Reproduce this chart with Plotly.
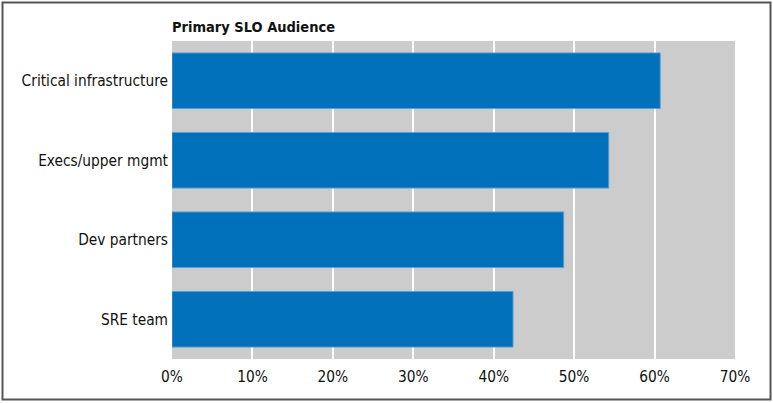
import plotly.graph_objects as go

# Survey results: share of respondents naming each primary SLO audience
audiences = ["SRE team", "Dev partners", "Execs/upper mgmt", "Critical infrastructure"]
shares = [0.424, 0.487, 0.543, 0.607]
tick_values = [0, 0.1, 0.2, 0.3, 0.4, 0.5, 0.6, 0.7]
tick_labels = ["0%", "10%", "20%", "30%", "40%", "50%", "60%", "70%"]

FONT = "DejaVu Sans Condensed, DejaVu Sans, sans-serif"
W, H = 773, 403
L, R, T, B = 172, 38, 41, 44
pw, ph = W - L - R, H - T - B

fig = go.Figure(
    go.Bar(
        x=shares,
        y=audiences,
        orientation="h",
        marker=dict(color="#0070bb", line=dict(color="#5a9fd0", width=1)),
        width=0.7,
        hoverinfo="skip",
    )
)

fig.update_layout(
    width=W,
    height=H,
    margin=dict(l=L, r=R, t=T, b=B),
    paper_bgcolor="white",
    plot_bgcolor="#cccccc",
    showlegend=False,
    font=dict(family=FONT, size=15.3, color="#111111"),
    title=dict(
        text="<b>Primary SLO Audience</b>",
        x=L / W,
        xanchor="left",
        y=1 - 27 / H,
        yanchor="middle",
        font=dict(family=FONT, size=14.5, color="#111111"),
    ),
    xaxis=dict(
        range=[0, 0.7],
        tickvals=tick_values,
        ticktext=tick_labels,
        showgrid=True,
        gridcolor="white",
        gridwidth=2,
        zeroline=False,
        showline=False,
        ticks="",
        ticklabelstandoff=7,
        fixedrange=True,
    ),
    yaxis=dict(
        categoryorder="array",
        categoryarray=audiences,
        range=[-0.5, 3.5],
        showgrid=False,
        zeroline=False,
        ticks="",
        ticklabelstandoff=3,
        fixedrange=True,
    ),
)

# Thin frame around the whole figure
fig.add_shape(
    type="rect",
    xref="paper",
    yref="paper",
    x0=(2.5 - L) / pw,
    x1=(770.5 - L) / pw,
    y0=(H - B - 399.5) / ph,
    y1=(H - B - 2.5) / ph,
    line=dict(color="#555555", width=2),
    layer="above",
)

fig.write_html("out.html")
